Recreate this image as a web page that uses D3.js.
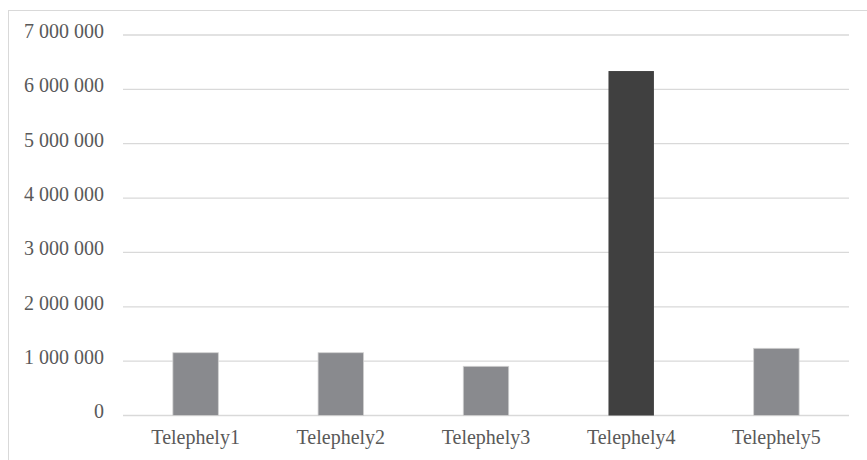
<!DOCTYPE html>
<html>
<head>
<meta charset="utf-8">
<script src="https://cdn.jsdelivr.net/npm/d3@7"></script>
<style>
  html, body { margin: 0; padding: 0; background: #fff; }
  svg { display: block; }
</style>
</head>
<body>
<svg id="chart" width="867" height="460"></svg>
<script>
const categories = ["Telephely1", "Telephely2", "Telephely3", "Telephely4", "Telephely5"];
const values = [1155000, 1155000, 905000, 6337000, 1236000];
const highlight = [false, false, false, true, false];
const yTicks = [0, 1000000, 2000000, 3000000, 4000000, 5000000, 6000000, 7000000];

(function () {
const svg = d3.select("#chart");
const mLeft = 123, mRight = 849, mTop = 35, mBottom = 415.5;

// outer frame
svg.append("rect")
  .attr("x", 8.5).attr("y", 10.5)
  .attr("width", 900).attr("height", 500)
  .attr("fill", "#fff").attr("stroke", "#d9d9d9").attr("stroke-width", 1);

const x = d3.scaleBand().domain(categories).range([mLeft, mRight])
  .paddingInner(0.687).paddingOuter(0.3435);
const y = d3.scaleLinear().domain([0, 7000000]).range([mBottom, mTop]);

const fmt = v => d3.format(",")(v).replace(/,/g, " ");

// gridlines
svg.append("g").selectAll("line").data(yTicks).join("line")
  .attr("x1", mLeft).attr("x2", mRight)
  .attr("y1", d => y(d)).attr("y2", d => y(d))
  .attr("stroke", "#d9d9d9").attr("stroke-width", 1.3);

// y axis labels
const yAxis = d3.axisLeft(y).tickValues(yTicks).tickFormat(fmt).tickSize(0).tickPadding(19);
const gy = svg.append("g").attr("transform", `translate(${mLeft},0)`).call(yAxis);
gy.select(".domain").remove();
gy.selectAll("text")
  .attr("font-family", "'Liberation Serif', 'Times New Roman', serif")
  .attr("font-size", 20).attr("fill", "#595959")
  .attr("dy", "0.12em");

// bars
svg.append("g").selectAll("rect").data(categories).join("rect")
  .attr("x", d => x(d))
  .attr("width", x.bandwidth())
  .attr("y", (d, i) => y(values[i]))
  .attr("height", (d, i) => y(0) - y(values[i]))
  .attr("fill", (d, i) => highlight[i] ? "#404040" : "#898a8e")
  .attr("stroke", (d, i) => highlight[i] ? "none" : "#d0d0d0")
  .attr("stroke-width", 0.8);

// x axis labels
const xAxis = d3.axisBottom(x).tickSize(0).tickPadding(14);
const gx = svg.append("g").attr("transform", `translate(0,${mBottom})`).call(xAxis);
gx.select(".domain").remove();
gx.selectAll("text")
  .attr("font-family", "'Liberation Serif', 'Times New Roman', serif")
  .attr("font-size", 20).attr("fill", "#595959");
})();
</script>
</body>
</html>
